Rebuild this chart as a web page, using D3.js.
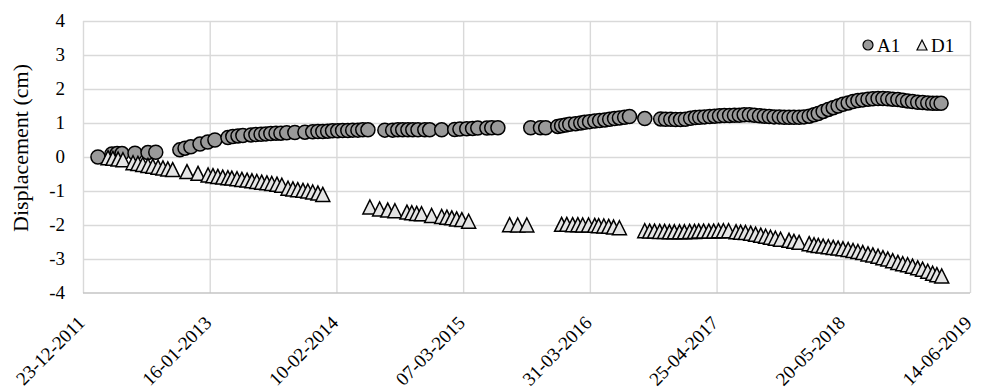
<!DOCTYPE html>
<html>
<head>
<meta charset="utf-8">
<script src="https://cdn.jsdelivr.net/npm/d3@7"></script>
<style>
  body { margin: 0; background: #fff; }
  svg { display: block; }
  text { font-family: "Liberation Serif", "Times New Roman", serif; fill: #000; }
</style>
</head>
<body>
<svg id="chart" width="986" height="392"></svg>
<script>
// Survey readings, displacement in cm
const a1Dates = [
  "2012-02-07","2012-03-21","2012-04-06","2012-04-21","2012-05-31","2012-07-10","2012-08-03",
  "2012-10-16","2012-11-01","2012-11-19","2012-12-17","2013-01-10","2013-02-01","2013-03-13","2013-03-28",
  "2013-04-13","2013-04-28","2013-05-23","2013-06-07","2013-06-23","2013-07-08","2013-07-23","2013-08-08",
  "2013-08-23","2013-09-10","2013-10-05","2013-11-05","2013-11-29","2013-12-15","2013-12-30","2014-01-14",
  "2014-01-29","2014-02-14","2014-03-01","2014-03-17","2014-04-01","2014-04-17","2014-05-02","2014-05-18",
  "2014-07-09","2014-08-02","2014-08-18","2014-09-02","2014-09-18","2014-10-03","2014-10-19","2014-11-09",
  "2014-11-24","2014-12-31","2015-02-09","2015-02-25","2015-03-18","2015-04-05","2015-04-21","2015-05-19",
  "2015-06-03","2015-06-22",
  "2015-10-01","2015-10-31","2015-11-16","2015-12-23","2016-01-04","2016-01-17","2016-01-29","2016-02-16",
  "2016-03-03","2016-03-15","2016-03-30","2016-04-15","2016-04-30","2016-05-16","2016-05-31","2016-06-15",
  "2016-06-30","2016-07-16","2016-07-31","2016-09-16","2016-11-04","2016-11-19","2016-12-05","2016-12-20",
  "2017-01-04","2017-01-19","2017-02-04","2017-02-19","2017-03-04","2017-03-19","2017-04-04","2017-04-19",
  "2017-05-04","2017-05-19","2017-06-04","2017-06-19","2017-07-04","2017-07-19","2017-08-04","2017-08-19",
  "2017-09-04","2017-09-19","2017-10-04","2017-10-19","2017-11-04","2017-11-19","2017-12-04","2017-12-19",
  "2018-01-04","2018-01-19","2018-02-04","2018-02-19","2018-03-04","2018-03-19","2018-04-04","2018-04-19",
  "2018-05-04","2018-05-19","2018-06-04","2018-06-19","2018-07-04","2018-07-19","2018-08-04","2018-08-19",
  "2018-09-04","2018-09-19","2018-10-04","2018-10-19","2018-11-04","2018-11-19","2018-12-04","2018-12-19",
  "2019-01-04","2019-01-19","2019-02-04","2019-02-19","2019-03-04","2019-03-17"
];
const a1Values = [
  0.00,0.09,0.10,0.10,0.11,0.13,0.14,
  0.21,0.26,0.30,0.38,0.44,0.50,0.57,0.60,
  0.62,0.63,0.65,0.66,0.67,0.68,0.69,0.70,
  0.70,0.71,0.72,0.73,0.74,0.75,0.75,0.76,
  0.77,0.77,0.78,0.78,0.79,0.79,0.80,0.80,
  0.79,0.79,0.80,0.80,0.80,0.80,0.80,0.80,
  0.80,0.80,0.81,0.82,0.83,0.84,0.85,0.85,
  0.86,0.86,
  0.86,0.86,0.86,0.90,0.92,0.94,0.96,0.98,
  1.00,1.02,1.04,1.06,1.07,1.09,1.11,1.13,
  1.15,1.17,1.19,1.13,1.12,1.11,1.11,1.10,
  1.10,1.11,1.14,1.16,1.17,1.18,1.19,1.20,
  1.21,1.22,1.22,1.23,1.23,1.24,1.24,1.23,
  1.21,1.20,1.19,1.18,1.18,1.17,1.17,1.17,
  1.17,1.18,1.20,1.24,1.28,1.34,1.40,1.45,
  1.50,1.55,1.59,1.63,1.66,1.68,1.70,1.71,
  1.72,1.72,1.71,1.70,1.69,1.67,1.65,1.63,
  1.61,1.60,1.59,1.58,1.58,1.58
];

const d1Dates = [
  "2012-03-09","2012-03-24","2012-04-09","2012-04-24","2012-05-25","2012-06-09","2012-06-24","2012-07-10",
  "2012-07-25","2012-08-10","2012-08-25","2012-09-09","2012-09-24","2012-11-07","2012-12-11","2013-01-11",
  "2013-01-26","2013-02-10","2013-02-25","2013-03-13","2013-03-25","2013-04-10","2013-04-25","2013-05-11",
  "2013-05-26","2013-06-10","2013-06-25","2013-07-11","2013-07-26","2013-08-11","2013-08-26","2013-09-14",
  "2013-09-29","2013-10-14","2013-10-30","2013-11-14","2013-11-29","2013-12-15","2013-12-30",
  "2014-05-24","2014-06-23","2014-07-18","2014-08-09","2014-09-15","2014-09-30","2014-10-15","2014-10-30",
  "2014-11-30","2014-12-31","2015-01-16","2015-01-31","2015-02-15","2015-03-03","2015-03-24",
  "2015-07-28","2015-08-22","2015-09-19",
  "2016-01-04","2016-01-20","2016-02-07","2016-02-23","2016-03-09","2016-03-27","2016-04-15","2016-04-27",
  "2016-05-13","2016-05-28","2016-06-12","2016-06-30",
  "2016-09-16","2016-10-01","2016-10-16","2016-11-01","2016-11-16","2016-12-01","2016-12-16","2017-01-01",
  "2017-01-16","2017-02-01","2017-02-16","2017-03-01","2017-03-16","2017-04-01","2017-04-16","2017-05-01",
  "2017-05-16","2017-06-01","2017-06-24","2017-07-08","2017-07-23","2017-08-08","2017-08-23","2017-09-08",
  "2017-09-23","2017-10-08","2017-10-23","2017-11-08","2017-12-04","2017-12-19","2018-01-04","2018-02-04",
  "2018-02-19","2018-03-04","2018-03-19","2018-04-04","2018-04-19","2018-05-04","2018-05-19","2018-06-04",
  "2018-06-19","2018-07-04","2018-07-19","2018-08-04","2018-08-19","2018-09-04","2018-09-19","2018-10-04",
  "2018-10-19","2018-11-04","2018-11-19","2018-12-04","2018-12-19","2019-01-04","2019-01-19","2019-02-04",
  "2019-02-19","2019-03-04","2019-03-19"
];
const d1Values = [
  -0.02,-0.04,-0.06,-0.08,-0.17,-0.19,-0.22,-0.25,
  -0.27,-0.30,-0.32,-0.35,-0.37,-0.43,-0.48,-0.53,
  -0.55,-0.57,-0.59,-0.61,-0.62,-0.64,-0.66,-0.68,
  -0.70,-0.72,-0.74,-0.76,-0.78,-0.80,-0.83,-0.92,
  -0.94,-0.96,-0.98,-1.00,-1.03,-1.06,-1.10,
  -1.47,-1.53,-1.56,-1.58,-1.62,-1.64,-1.66,-1.67,
  -1.72,-1.75,-1.77,-1.79,-1.82,-1.84,-1.89,
  -1.99,-2.00,-2.00,
  -1.98,-1.98,-1.99,-1.99,-2.00,-2.00,-2.01,-2.02,
  -2.03,-2.04,-2.06,-2.08,
  -2.17,-2.18,-2.18,-2.19,-2.19,-2.20,-2.20,-2.20,
  -2.20,-2.19,-2.19,-2.18,-2.18,-2.18,-2.18,-2.17,
  -2.17,-2.17,-2.20,-2.21,-2.22,-2.24,-2.27,-2.30,
  -2.33,-2.36,-2.39,-2.42,-2.45,-2.48,-2.51,-2.55,
  -2.58,-2.60,-2.62,-2.64,-2.66,-2.68,-2.70,-2.72,
  -2.75,-2.78,-2.81,-2.85,-2.88,-2.92,-2.96,-3.00,
  -3.05,-3.10,-3.14,-3.17,-3.21,-3.26,-3.30,-3.36,
  -3.42,-3.46,-3.50
];

const xTickLabels = ["23-12-2011","16-01-2013","10-02-2014","07-03-2015","31-03-2016","25-04-2017","20-05-2018","14-06-2019"];
const yTickValues = [-4,-3,-2,-1,0,1,2,3,4];
const seriesNames = ["A1","D1"];
const yAxisTitle = "Displacement (cm)";

const svg = d3.select("#chart");
const plot = { left: 83, right: 970, top: 21, bottom: 293 };

const parseDate = d3.timeParse("%Y-%m-%d");
const parseTick = d3.timeParse("%d-%m-%Y");
const tickDates = xTickLabels.map(parseTick);

const x = d3.scaleTime()
  .domain([tickDates[0], tickDates[tickDates.length - 1]])
  .range([plot.left, plot.right]);
const y = d3.scaleLinear()
  .domain([d3.min(yTickValues), d3.max(yTickValues)])
  .range([plot.bottom, plot.top]);

const gridColor = "#d9d9d9";

// horizontal gridlines
svg.append("g")
  .attr("transform", `translate(${plot.left},0)`)
  .call(d3.axisLeft(y).tickValues(yTickValues.slice(1)).tickSize(-(plot.right - plot.left)).tickFormat(""))
  .call(g => g.select(".domain").remove())
  .call(g => g.selectAll("line").attr("stroke", gridColor).attr("stroke-width", 1.4));

// vertical gridlines
svg.append("g")
  .attr("transform", `translate(0,${plot.bottom})`)
  .call(d3.axisBottom(x).tickValues(tickDates).tickSize(-(plot.bottom - plot.top)).tickFormat(""))
  .call(g => g.select(".domain").remove())
  .call(g => g.selectAll("line").attr("stroke", gridColor).attr("stroke-width", 1.4));

// x axis line
svg.append("line")
  .attr("x1", plot.left).attr("x2", plot.right)
  .attr("y1", y(-4)).attr("y2", y(-4))
  .attr("stroke", "#c4c4c4").attr("stroke-width", 1.6);

// y tick labels
svg.append("g").selectAll("text")
  .data(yTickValues)
  .join("text")
  .attr("x", 65)
  .attr("y", d => y(d))
  .attr("dy", "0.33em")
  .attr("text-anchor", "end")
  .attr("font-size", 19)
  .text(d => d);

// x tick labels, rotated
svg.append("g").selectAll("text")
  .data(tickDates)
  .join("text")
  .attr("transform", d => `translate(${x(d) + 3},${plot.bottom + 31}) rotate(-45)`)
  .attr("text-anchor", "end")
  .attr("font-size", 19)
  .text((d, i) => xTickLabels[i]);

// y axis title
svg.append("text")
  .attr("transform", `translate(28,148) rotate(-90)`)
  .attr("text-anchor", "middle")
  .attr("font-size", 22)
  .text(yAxisTitle);

const a1 = a1Dates.map((d, i) => ({ date: parseDate(d), value: a1Values[i] }));
const d1 = d1Dates.map((d, i) => ({ date: parseDate(d), value: d1Values[i] }));

const circleStyle = { fill: "#9a9a9a", stroke: "#000", width: 1.5 };
const triStyle = { fill: "#e4e4e4", stroke: "#000", width: 1.5 };
const triangle = (s) => `M0,${-s / 2}L${s / 2},${s / 2}L${-s / 2},${s / 2}Z`;

// A1 markers
svg.append("g").selectAll("circle")
  .data(a1)
  .join("circle")
  .attr("cx", d => x(d.date))
  .attr("cy", d => y(d.value))
  .attr("r", 7)
  .attr("fill", circleStyle.fill)
  .attr("stroke", circleStyle.stroke)
  .attr("stroke-width", circleStyle.width);

// D1 markers
svg.append("g").selectAll("path")
  .data(d1)
  .join("path")
  .attr("transform", d => `translate(${x(d.date)},${y(d.value)})`)
  .attr("d", triangle(14))
  .attr("fill", triStyle.fill)
  .attr("stroke", triStyle.stroke)
  .attr("stroke-width", triStyle.width)
  .attr("stroke-linejoin", "miter");

// legend
const legend = svg.append("g").attr("transform", "translate(868,45)");
legend.append("circle")
  .attr("r", 5)
  .attr("fill", circleStyle.fill)
  .attr("stroke", circleStyle.stroke)
  .attr("stroke-width", 1.2);
legend.append("text")
  .attr("x", 9).attr("y", 6.5)
  .attr("font-size", 19)
  .text(seriesNames[0]);
legend.append("path")
  .attr("transform", "translate(54,0)")
  .attr("d", triangle(10))
  .attr("fill", triStyle.fill)
  .attr("stroke", triStyle.stroke)
  .attr("stroke-width", 1.2);
legend.append("text")
  .attr("x", 63).attr("y", 6.5)
  .attr("font-size", 19)
  .text(seriesNames[1]);
</script>
</body>
</html>
